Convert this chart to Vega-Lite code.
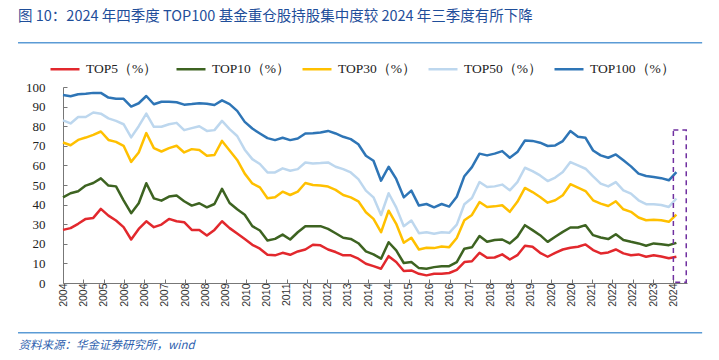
{
  "$schema": "https://vega.github.io/schema/vega-lite/v6.json",
  "width": 624,
  "height": 196,
  "autosize": {"type": "none"},
  "padding": {"left": 63, "top": 87, "right": 32, "bottom": 77},
  "background": "white",
  "title": {
    "text": "图 10：2024 年四季度 TOP100 基金重仓股持股集中度较 2024 年三季度有所下降",
    "anchor": "start",
    "frame": "group",
    "dx": -45,
    "dy": 3,
    "offset": 20,
    "font": "Noto Sans CJK SC",
    "fontSize": 14.5,
    "fontWeight": "normal",
    "color": "#1F4E9A"
  },
  "config": {"view": {"stroke": null}, "axis": {"labelOverlap": false, "labelSeparation": 0}},
  "layer": [
    {
      "data": {
        "values": [
          {"i":0,"TOP5":27.1,"TOP10":43.7,"TOP30":71.7,"TOP50":83,"TOP100":95.9},
          {"i":1,"TOP5":28,"TOP10":45.8,"TOP30":70.3,"TOP50":81.4,"TOP100":95.3},
          {"i":2,"TOP5":30.2,"TOP10":46.8,"TOP30":73,"TOP50":84.7,"TOP100":96.3},
          {"i":3,"TOP5":32.7,"TOP10":49.7,"TOP30":74.2,"TOP50":84.7,"TOP100":96.6},
          {"i":4,"TOP5":33.2,"TOP10":51,"TOP30":75.6,"TOP50":87,"TOP100":97},
          {"i":5,"TOP5":37.8,"TOP10":53.4,"TOP30":77.3,"TOP50":86.4,"TOP100":97},
          {"i":6,"TOP5":34.4,"TOP10":49.7,"TOP30":73,"TOP50":84,"TOP100":94.6},
          {"i":7,"TOP5":31.9,"TOP10":49.3,"TOP30":72,"TOP50":82.7,"TOP100":94},
          {"i":8,"TOP5":28.5,"TOP10":42.2,"TOP30":70,"TOP50":81,"TOP100":94},
          {"i":9,"TOP5":22.2,"TOP10":35.6,"TOP30":61.8,"TOP50":74.3,"TOP100":90},
          {"i":10,"TOP5":27.6,"TOP10":40.7,"TOP30":66.6,"TOP50":80,"TOP100":91.7},
          {"i":11,"TOP5":31.5,"TOP10":50.9,"TOP30":76.5,"TOP50":86.4,"TOP100":95.4},
          {"i":12,"TOP5":28.5,"TOP10":43.2,"TOP30":68.8,"TOP50":79.7,"TOP100":91.2},
          {"i":13,"TOP5":29.8,"TOP10":42,"TOP30":67.1,"TOP50":79.7,"TOP100":92.5},
          {"i":14,"TOP5":32.7,"TOP10":44.1,"TOP30":68.8,"TOP50":81,"TOP100":92.5},
          {"i":15,"TOP5":31.5,"TOP10":44.6,"TOP30":70,"TOP50":81.7,"TOP100":92.2},
          {"i":16,"TOP5":31,"TOP10":41.7,"TOP30":66.6,"TOP50":78,"TOP100":91},
          {"i":17,"TOP5":27.1,"TOP10":39.5,"TOP30":68.3,"TOP50":79,"TOP100":91.3},
          {"i":18,"TOP5":27.1,"TOP10":40.7,"TOP30":67.8,"TOP50":80,"TOP100":91.7},
          {"i":19,"TOP5":24.2,"TOP10":38.6,"TOP30":64.9,"TOP50":77.6,"TOP100":91.5},
          {"i":20,"TOP5":27.1,"TOP10":40.3,"TOP30":65.3,"TOP50":78,"TOP100":90.8},
          {"i":21,"TOP5":31.5,"TOP10":48,"TOP30":72.5,"TOP50":82.7,"TOP100":93.2},
          {"i":22,"TOP5":28,"TOP10":40.8,"TOP30":67.6,"TOP50":78.5,"TOP100":91.3},
          {"i":23,"TOP5":25.2,"TOP10":37.6,"TOP30":62.8,"TOP50":75,"TOP100":87.8},
          {"i":24,"TOP5":22.4,"TOP10":34.8,"TOP30":55.8,"TOP50":68,"TOP100":82.2},
          {"i":25,"TOP5":19.5,"TOP10":29,"TOP30":50.8,"TOP50":63.2,"TOP100":78.8},
          {"i":26,"TOP5":17.5,"TOP10":26.8,"TOP30":48.8,"TOP50":60.7,"TOP100":76.3},
          {"i":27,"TOP5":14.4,"TOP10":21.7,"TOP30":43.2,"TOP50":56.4,"TOP100":73.9},
          {"i":28,"TOP5":14.1,"TOP10":22.5,"TOP30":43.7,"TOP50":56.4,"TOP100":72.9},
          {"i":29,"TOP5":15.4,"TOP10":24.7,"TOP30":46.6,"TOP50":58.5,"TOP100":74.1},
          {"i":30,"TOP5":14.4,"TOP10":22.2,"TOP30":44.9,"TOP50":57.3,"TOP100":72.9},
          {"i":31,"TOP5":16.1,"TOP10":25.9,"TOP30":46.6,"TOP50":58.1,"TOP100":73.7},
          {"i":32,"TOP5":17.1,"TOP10":29,"TOP30":51,"TOP50":61.5,"TOP100":76.3},
          {"i":33,"TOP5":19.5,"TOP10":29,"TOP30":50,"TOP50":61,"TOP100":76.4},
          {"i":34,"TOP5":19.2,"TOP10":29,"TOP30":49.7,"TOP50":61.2,"TOP100":76.8},
          {"i":35,"TOP5":17.1,"TOP10":27.6,"TOP30":49.2,"TOP50":61.5,"TOP100":77.6},
          {"i":36,"TOP5":15.8,"TOP10":25.4,"TOP30":47.5,"TOP50":59.3,"TOP100":76.3},
          {"i":37,"TOP5":14.1,"TOP10":23.1,"TOP30":44.9,"TOP50":58.1,"TOP100":74.6},
          {"i":38,"TOP5":14.1,"TOP10":22.5,"TOP30":43.7,"TOP50":56.4,"TOP100":73.4},
          {"i":39,"TOP5":12.4,"TOP10":20.3,"TOP30":41.7,"TOP50":53,"TOP100":70.8},
          {"i":40,"TOP5":9.8,"TOP10":16.1,"TOP30":36.1,"TOP50":47.1,"TOP100":64.9},
          {"i":41,"TOP5":8.6,"TOP10":14.6,"TOP30":32.7,"TOP50":43.7,"TOP100":62.4},
          {"i":42,"TOP5":7.3,"TOP10":12.4,"TOP30":25.9,"TOP50":34.7,"TOP100":52.2},
          {"i":43,"TOP5":13.7,"TOP10":20.8,"TOP30":36.9,"TOP50":45.8,"TOP100":59.3},
          {"i":44,"TOP5":10.7,"TOP10":16.6,"TOP30":30.2,"TOP50":38.6,"TOP100":53.1},
          {"i":45,"TOP5":6.1,"TOP10":10.2,"TOP30":20.5,"TOP50":29,"TOP100":43.7},
          {"i":46,"TOP5":6.4,"TOP10":10.7,"TOP30":23.1,"TOP50":31.9,"TOP100":47.1},
          {"i":47,"TOP5":4.7,"TOP10":7.6,"TOP30":17.1,"TOP50":25.4,"TOP100":39.5},
          {"i":48,"TOP5":3.9,"TOP10":7.3,"TOP30":18,"TOP50":25.9,"TOP100":40.3},
          {"i":49,"TOP5":4.7,"TOP10":8.1,"TOP30":17.8,"TOP50":25.1,"TOP100":38.6},
          {"i":50,"TOP5":4.7,"TOP10":8.6,"TOP30":18.6,"TOP50":25.9,"TOP100":40.3},
          {"i":51,"TOP5":5.1,"TOP10":8.6,"TOP30":18.3,"TOP50":25.6,"TOP100":39},
          {"i":52,"TOP5":6.7,"TOP10":10.7,"TOP30":23,"TOP50":29.8,"TOP100":44},
          {"i":53,"TOP5":10.7,"TOP10":17.5,"TOP30":32,"TOP50":40.2,"TOP100":54.5},
          {"i":54,"TOP5":11.1,"TOP10":18.2,"TOP30":34.7,"TOP50":43.4,"TOP100":59.1},
          {"i":55,"TOP5":15.4,"TOP10":24,"TOP30":41.3,"TOP50":51.5,"TOP100":66},
          {"i":56,"TOP5":12.9,"TOP10":21,"TOP30":38.8,"TOP50":49,"TOP100":65.1},
          {"i":57,"TOP5":13,"TOP10":21.9,"TOP30":39.1,"TOP50":49.3,"TOP100":66},
          {"i":58,"TOP5":14.6,"TOP10":22.2,"TOP30":39.7,"TOP50":50.2,"TOP100":67.3},
          {"i":59,"TOP5":12,"TOP10":20.2,"TOP30":36.3,"TOP50":47.3,"TOP100":63.9},
          {"i":60,"TOP5":14.2,"TOP10":23.6,"TOP30":41.4,"TOP50":51.5,"TOP100":66.8},
          {"i":61,"TOP5":19,"TOP10":29.5,"TOP30":48.5,"TOP50":58.8,"TOP100":72.7},
          {"i":62,"TOP5":18.5,"TOP10":27,"TOP30":46.4,"TOP50":57.1,"TOP100":72.5},
          {"i":63,"TOP5":15.4,"TOP10":24.4,"TOP30":43.9,"TOP50":54.9,"TOP100":71.6},
          {"i":64,"TOP5":13.4,"TOP10":21,"TOP30":41,"TOP50":52,"TOP100":69.9},
          {"i":65,"TOP5":15.4,"TOP10":23.6,"TOP30":42.2,"TOP50":53.8,"TOP100":70.2},
          {"i":66,"TOP5":17.1,"TOP10":26.1,"TOP30":44.8,"TOP50":56.6,"TOP100":72.4},
          {"i":67,"TOP5":18,"TOP10":28.3,"TOP30":50.4,"TOP50":61.7,"TOP100":77.5},
          {"i":68,"TOP5":18.5,"TOP10":28.3,"TOP30":48.7,"TOP50":60,"TOP100":74.6},
          {"i":69,"TOP5":19.7,"TOP10":29.5,"TOP30":46.9,"TOP50":58.3,"TOP100":74.1},
          {"i":70,"TOP5":16.8,"TOP10":24.4,"TOP30":42.2,"TOP50":54.4,"TOP100":67.6},
          {"i":71,"TOP5":15.1,"TOP10":23.2,"TOP30":40.5,"TOP50":50.7,"TOP100":65.1},
          {"i":72,"TOP5":15.6,"TOP10":22.4,"TOP30":39.3,"TOP50":49.3,"TOP100":63.9},
          {"i":73,"TOP5":17.1,"TOP10":24.9,"TOP30":41.7,"TOP50":51.5,"TOP100":65.6},
          {"i":74,"TOP5":15.1,"TOP10":21.9,"TOP30":37.6,"TOP50":47.3,"TOP100":62.6},
          {"i":75,"TOP5":14.2,"TOP10":21,"TOP30":36.3,"TOP50":45.6,"TOP100":59.5},
          {"i":76,"TOP5":14.6,"TOP10":20.2,"TOP30":33.4,"TOP50":42.2,"TOP100":55.8},
          {"i":77,"TOP5":13.4,"TOP10":19,"TOP30":32,"TOP50":40.2,"TOP100":54.6},
          {"i":78,"TOP5":14.2,"TOP10":20.2,"TOP30":32.3,"TOP50":40.2,"TOP100":54.1},
          {"i":79,"TOP5":13.5,"TOP10":19.8,"TOP30":32,"TOP50":39.8,"TOP100":53.5},
          {"i":80,"TOP5":12.6,"TOP10":19.3,"TOP30":31.2,"TOP50":38.8,"TOP100":52.4},
          {"i":81,"TOP5":13.4,"TOP10":20.5,"TOP30":34.9,"TOP50":43.1,"TOP100":56.6}
        ]
      },
      "transform": [{"fold": ["TOP5", "TOP10", "TOP30", "TOP50", "TOP100"], "as": ["series", "value"]}],
      "mark": {"type": "line", "strokeWidth": 2.5, "strokeJoin": "round"},
      "encoding": {
        "x": {
          "field": "i",
          "type": "quantitative",
          "scale": {"domain": [0, 82.4], "nice": false, "zero": false},
          "axis": {
            "values": [0, 2.68667, 5.37333, 8.06, 10.74667, 13.43333, 16.12, 18.80667, 21.49333, 24.18, 26.86667, 29.55333, 32.24, 34.92667, 37.61333, 40.3, 42.98667, 45.67333, 48.36, 51.04667, 53.73333, 56.42, 59.10667, 61.79333, 64.48, 67.16667, 69.85333, 72.54, 75.22667, 77.91333, 80.6],
            "tickCount": 100,
            "labelExpr": "'' + (2004 + floor(round(datum.value / 2.68667) * 8 / 12))",
            "labelAngle": -90,
            "labelFont": "Liberation Sans",
            "labelFontSize": 10.5,
            "labelColor": "#333333",
            "labelPadding": 4,
            "labelFlush": false,
            "labelOverlap": false,
            "labelSeparation": 0,
            "tickSize": -4,
            "tickColor": "#777777",
            "domainColor": "#777777",
            "grid": false,
            "title": "资料来源：华金证券研究所，wind",
            "titleFont": "Noto Sans CJK SC",
            "titleFontSize": 11.5,
            "titleFontStyle": "italic",
            "titleFontWeight": "normal",
            "titleColor": "#2E5FAE",
            "titleAnchor": "start",
            "titleAlign": "left",
            "titleBaseline": "middle",
            "titleX": -45,
            "titleY": 62
          }
        },
        "y": {
          "field": "value",
          "type": "quantitative",
          "scale": {"domain": [0, 100], "nice": false},
          "axis": {
            "values": [0, 10, 20, 30, 40, 50, 60, 70, 80, 90, 100],
            "tickCount": 100,
            "labelFont": "Liberation Serif",
            "labelFontSize": 13,
            "labelColor": "#222222",
            "labelPadding": 22,
            "labelOverlap": false,
            "labelSeparation": 0,
            "tickSize": -4,
            "tickColor": "#777777",
            "domainColor": "#777777",
            "grid": false,
            "title": null
          }
        },
        "color": {
          "field": "series",
          "type": "nominal",
          "sort": ["TOP5", "TOP10", "TOP30", "TOP50", "TOP100"],
          "scale": {
            "domain": ["TOP5", "TOP10", "TOP30", "TOP50", "TOP100"],
            "range": ["#E2282D", "#3D6321", "#FFC000", "#BDD7EE", "#2E75B6"]
          },
          "legend": {
            "orient": "none",
            "legendX": -14,
            "legendY": -34,
            "direction": "horizontal",
            "columns": 5,
            "gridAlign": "all",
            "columnPadding": 0,
            "title": null,
            "symbolType": "stroke",
            "symbolSize": 841,
            "symbolStrokeWidth": 2.5,
            "labelFont": "Liberation Serif",
            "labelFontSize": 13.5,
            "labelColor": "#222222",
            "labelOffset": 5,
            "labelExpr": "datum.label + '（%）'"
          }
        }
      }
    },
    {
      "data": {"values": [{}]},
      "mark": {"type": "rect", "fill": "transparent", "stroke": "#7030A0", "strokeWidth": 1.5, "strokeDash": [5, 4]},
      "encoding": {
        "x": {"datum": 80.6, "type": "quantitative"},
        "x2": {"datum": 82.3},
        "y": {"datum": 0.4, "type": "quantitative"},
        "y2": {"datum": 78}
      }
    },
    {
      "data": {"values": [{}]},
      "mark": {"type": "rule", "stroke": "#5B9BD5", "strokeWidth": 1.5},
      "encoding": {
        "x": {"datum": -5.94, "type": "quantitative"},
        "x2": {"datum": 84.4},
        "y": {"datum": 122.6, "type": "quantitative"}
      }
    },
    {
      "data": {"values": [{}]},
      "mark": {"type": "rule", "stroke": "#5B9BD5", "strokeWidth": 1.5},
      "encoding": {
        "x": {"datum": -5.94, "type": "quantitative"},
        "x2": {"datum": 84.4},
        "y": {"datum": -25.4, "type": "quantitative"}
      }
    }
  ]
}
